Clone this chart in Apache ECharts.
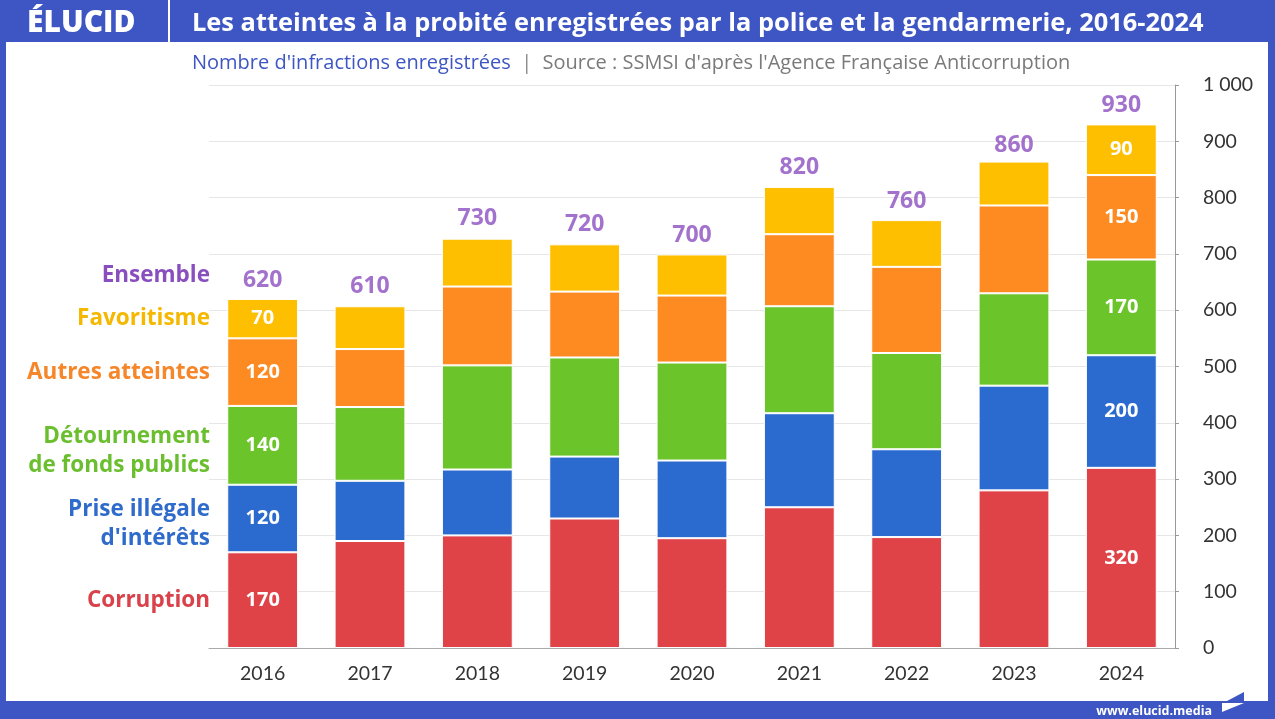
<!DOCTYPE html>
<html><head><meta charset="utf-8">
<script src="https://cdn.jsdelivr.net/npm/echarts@6/dist/echarts.min.js"></script>
<style>
html,body{margin:0;padding:0;width:1275px;height:719px;overflow:hidden;background:#3e56c3;}
#panel{position:absolute;left:6px;top:42px;width:1262px;height:659px;background:#fff;}
#c{position:absolute;left:0;top:0;width:1275px;height:719px;}
</style></head><body>
<div id="panel"></div>
<div id="c"></div>
<script>
const years = ['2016','2017','2018','2019','2020','2021','2022','2023','2024'];
const corruption   = [170,190,200,230,195,250,197,280,320];
const prise        = [120,107,117,110,138,167,156,186,200];
const detournement = [140,131,185,176,174,190,171,164,170];
const autres       = [120,103,140,117,119,128,153,156,150];
const favoritisme  = [70,76,85,84,73,84,83,78,90];
const totals       = [620,610,730,720,700,820,760,860,930];
const yTicks = [0,100,200,300,400,500,600,700,800,900,1000];

const names = ['Corruption',"Prise illégale\nd'intérêts",'Détournement\nde fonds publics','Autres atteintes','Favoritisme'];
const seriesData = [corruption, prise, detournement, autres, favoritisme];
const colors = ['#e04347','#2b6bd0','#6cc42b','#fd8b21','#fdbf00'];
const textColors = ['#d9424a','#2f6bcb','#6bbf2f','#f5862a','#f5b800'];
const purple = '#8b4fc0';
const FONT = '"Open Sans"';
const FONT2 = 'Lato';

const chart = echarts.init(document.getElementById('c'), null, {renderer:'canvas'});
const n = years.length;

const series = seriesData.map((d,i)=>({
  type:'bar', name:names[i], stack:'all', data:d, barWidth:'66%',
  itemStyle:{color:colors[i], borderColor:'#fff', borderWidth:1},
  label:{show:true, position:'inside', color:'#fff', fontFamily:FONT, fontWeight:'bold', fontSize:20,
    formatter:p=> (p.dataIndex===0||p.dataIndex===n-1)? String(p.value):''}
}));
series.push({
  type:'scatter', name:'Ensemble', data:totals, symbolSize:0, silent:true,
  label:{show:true, position:'top', distance:7, color:purple, fontFamily:FONT, fontWeight:'bold', fontSize:23,
    formatter:p=>String(p.value)}
});

const option = {
  animation:false,
  backgroundColor:'transparent',
  title:[
    {text:'Les atteintes à la probité enregistrées par la police et la gendarmerie, 2016-2024',
     left:187, top:6, textStyle:{color:'#fff', fontFamily:FONT, fontWeight:'bold', fontSize:25.4}},
    {text:'{a|Nombre d\'infractions enregistrées}{b|  |  }{c|Source : SSMSI d\'après l\'Agence Française Anticorruption}',
     left:187, top:48,
     textStyle:{fontWeight:'normal', rich:{
       a:{color:'#3e56c3', fontFamily:FONT, fontSize:20, fontWeight:'normal'},
       b:{color:'#888', fontFamily:FONT, fontSize:20, fontWeight:'normal'},
       c:{color:'#7a7a7a', fontFamily:FONT, fontSize:20, fontWeight:'normal'}}}},
    {text:'ÉLUCID', left:22, top:3, textStyle:{color:'#fff', fontFamily:FONT, fontWeight:'800', fontSize:30}},
    {text:'www.elucid.media', right:58, top:700, textStyle:{color:'#fff', fontFamily:FONT, fontWeight:'bold', fontSize:12.5}}
  ],
  grid:{left:209, right:100, top:85, bottom:71},
  xAxis:{type:'category', data:years,
    axisLine:{lineStyle:{color:'#aaa'}}, axisTick:{show:false},
    axisLabel:{color:'#333', fontFamily:FONT2, fontSize:19.5, margin:16}},
  yAxis:{type:'value', position:'right', min:0, max:1000, interval:100,
    axisLine:{show:true, lineStyle:{color:'#999'}},
    axisTick:{show:true, length:4, lineStyle:{color:'#999'}},
    splitLine:{lineStyle:{color:'#e6e6e6'}},
    axisLabel:{color:'#333', fontFamily:FONT2, fontSize:19.5, margin:28,
      formatter:v=> yTicks.includes(v) ? (v>=1000 ? String(v).replace(/\B(?=(\d{3})+(?!\d))/g,'\u202f') : String(v)) : ''}},
  series:series,
  graphic:[
    {type:'line', shape:{x1:169,y1:0,x2:169,y2:42}, style:{stroke:'#fff', lineWidth:2}},
    {type:'polygon', shape:{points:[[1227,701],[1244,692],[1244,701]]}, style:{fill:'#3e56c3'}},
    {type:'polygon', shape:{points:[[1222,703],[1244,703],[1222,712]]}, style:{fill:'#fff'}}
  ]
};
chart.setOption(option);

// left-side series labels, positioned from the first category's segments
const labels = [];
let cum = 0;
seriesData.forEach((d,i)=>{
  const mid = cum + d[0]/2; cum += d[0];
  const pt = chart.convertToPixel({gridIndex:0}, [years[0], mid]);
  const dy = names[i].indexOf('\n') >= 0 ? 6 : 0;
  labels.push({type:'text', x:210, y:pt[1] + dy,
    style:{text:names[i], fill:textColors[i], font:'bold 22.5px '+FONT, align:'right', verticalAlign:'middle', lineHeight:29}});
});
const ptT = chart.convertToPixel({gridIndex:0}, [years[0], totals[0]]);
labels.push({type:'text', x:210, y:ptT[1]-23,
  style:{text:'Ensemble', fill:'#8a4fbf', font:'bold 22.5px '+FONT, align:'right', verticalAlign:'middle'}});
chart.setOption({graphic: option.graphic.concat(labels)});
</script>
</body></html>
